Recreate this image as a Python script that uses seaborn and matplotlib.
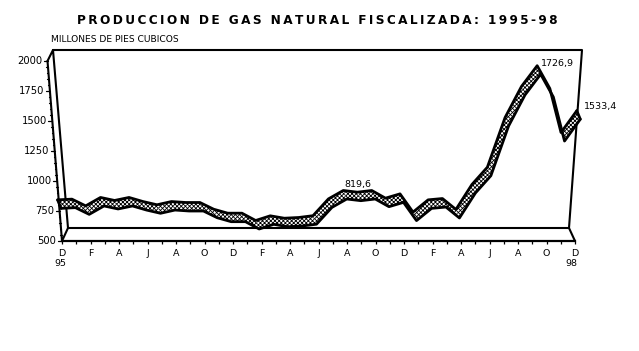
import numpy as np
import pandas as pd
import matplotlib.pyplot as plt
import seaborn as sns

months = list(range(37))
gas = [772, 778, 722, 792, 767, 792, 758, 731, 758, 750, 750, 694, 661,
       661, 600, 639, 619, 625, 640, 780, 850, 836, 850, 786, 822, 670,
       772, 783, 692, 900, 1044, 1458, 1717, 1890, 1700, 1333, 1515]
tick_labels = ['D', 'F', 'A', 'J', 'A', 'O', 'D', 'F', 'A', 'J', 'A', 'O',
               'D', 'F', 'A', 'J', 'A', 'O', 'D']
y_ticks = [500, 750, 1000, 1250, 1500, 1750, 2000]

THIN = '\u2009'
W, H = 639, 351
sns.set_style('white')
plt.rcParams['font.family'] = ['DejaVu Sans']
plt.rcParams['text.color'] = 'black'
plt.rcParams['xtick.labelcolor'] = 'black'
plt.rcParams['hatch.linewidth'] = 0.6

fig = plt.figure(figsize=(W / 100, H / 100), dpi=100)
# front plane of the box: 62..575 px wide, 61..241 px high
ax = fig.add_axes([62 / W, (H - 241) / H, (575 - 62) / W, 180 / H])
ax.set_xlim(0, 36)
ax.set_ylim(500, 2000)
sns.despine(ax=ax, left=True, right=True, top=True)
ax.spines['bottom'].set_linewidth(1.6)
ax.spines['bottom'].set_color('black')

px_x = 36 / (575 - 62)
px_y = 1500 / 180


def to_data(x, y):
    return (x - 62) * px_x, 500 + (241 - y) * px_y


# box outline, as pixel corners
box = [[(47.5, 61), (53, 50), (582, 50), (569, 228), (68, 228), (53, 50)],
       [(47.5, 61), (62, 241), (68, 228)],
       [(569, 228), (575, 241)]]
for part in box:
    xs, ys = zip(*[to_data(*p) for p in part])
    ax.plot(xs, ys, color='black', lw=1.5, clip_on=False, solid_joinstyle='round', zorder=2)

# slanted value axis
for v in np.arange(500, 2001, 50):
    frac = (v - 500) / 1500
    x0 = 62 - 14.5 * frac
    y0 = 241 - 180 * frac
    size = 4 if v in y_ticks else 1.5
    xs, ys = zip(to_data(x0, y0), to_data(x0 - size, y0))
    ax.plot(xs, ys, color='black', lw=0.9, clip_on=False, zorder=2)
    if v in y_ticks:
        ax.text(*to_data(x0 - 5.5, y0), str(v), ha='right', va='center', fontsize=7.2, clip_on=False)

# ribbon: the lean of the box pushes high values to the right
df = pd.DataFrame({'mes': months, 'gas': gas})
df['x'] = df['mes'] + (-1.5 + (df['gas'] - 700) / 120) * px_x
back = pd.DataFrame({'x': df['x'] - 3.5 * px_x, 'gas': df['gas'] + 8.5 * px_y})
for i in range(len(df) - 1):
    qx = [df['x'][i], df['x'][i + 1], back['x'][i + 1], back['x'][i]]
    qy = [df['gas'][i], df['gas'][i + 1], back['gas'][i + 1], back['gas'][i]]
    ax.fill(qx, qy, facecolor='white', edgecolor='black', hatch='xxxxxxxx', lw=0, clip_on=False, zorder=3)

for d in (df, back):
    sns.lineplot(data=d, x='x', y='gas', color='black', lw=2.0, ax=ax, errorbar=None, sort=False,
                 clip_on=False, zorder=4, solid_joinstyle='round')
for i in (0, len(df) - 1):
    ax.plot([df['x'][i], back['x'][i]], [df['gas'][i], back['gas'][i]], color='black', lw=2.0,
            clip_on=False, zorder=4)

ax.set_xlim(0, 36)
ax.set_ylim(500, 2000)
ax.set_xlabel('')
ax.set_ylabel('')
ax.set_yticks([])
ax.set_xticks(months, minor=True)
ax.set_xticks(months[::2], labels=tick_labels)
ax.tick_params(axis='x', which='both', direction='out', length=2.5, width=0.9, color='black', bottom=True, pad=3, labelsize=6.8)

ax.text(*to_data(60, 263), '95', ha='center', va='center', fontsize=6.8, clip_on=False)
ax.text(*to_data(571, 263), '98', ha='center', va='center', fontsize=6.8, clip_on=False)
ax.text(*to_data(358, 184), '819,6', ha='center', va='center', fontsize=6.8, clip_on=False, zorder=5)
ax.text(*to_data(541, 63), '1726,9', ha='left', va='center', fontsize=6.8, clip_on=False, zorder=5)
ax.text(*to_data(584, 106), '1533,4', ha='left', va='center', fontsize=6.8, clip_on=False, zorder=5)
ax.text(*to_data(51, 39), 'MILLONES DE PIES CUBICOS', ha='left', va='center', fontsize=6.6, clip_on=False)

title = 'PRODUCCION DE GAS NATURAL FISCALIZADA: 1995-98'
fig.text(317 / W, (H - 21) / H, THIN.join(title), ha='center', va='center', fontsize=8.7, fontweight='bold')

fig.savefig('out.png', dpi=100)
plt.close(fig)
